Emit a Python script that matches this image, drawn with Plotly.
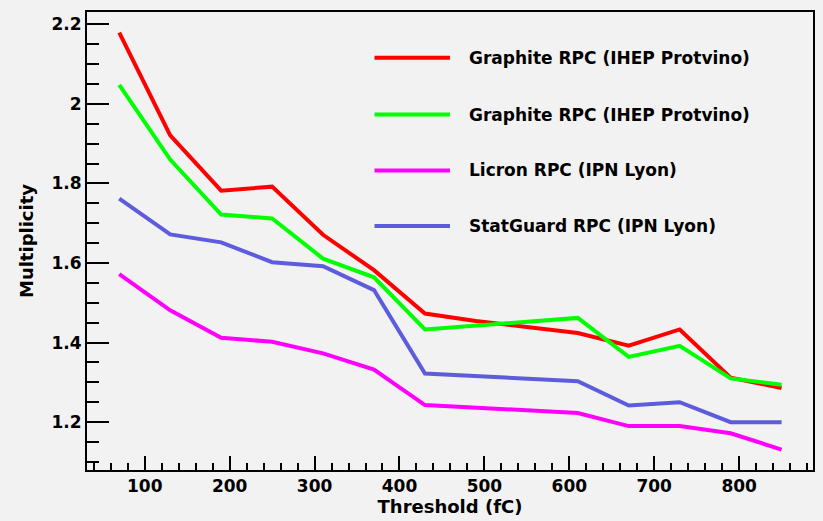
import plotly.graph_objects as go

threshold = [70, 130, 190, 250, 310, 370, 430, 490, 550, 610, 670, 730, 790, 850]
graphite_red = [2.179, 1.921, 1.782, 1.792, 1.671, 1.582, 1.473, 1.454, 1.439, 1.424, 1.392, 1.433, 1.312, 1.286]
graphite_green = [2.048, 1.860, 1.722, 1.712, 1.611, 1.564, 1.433, 1.443, 1.452, 1.462, 1.364, 1.392, 1.310, 1.294]
licron = [1.572, 1.481, 1.412, 1.402, 1.373, 1.332, 1.243, 1.236, 1.229, 1.223, 1.190, 1.190, 1.172, 1.131]
statguard = [1.762, 1.672, 1.652, 1.602, 1.592, 1.532, 1.322, 1.315, 1.310, 1.303, 1.242, 1.250, 1.200, 1.200]

names = ["Graphite RPC (IHEP Protvino)", "Graphite RPC (IHEP Protvino)",
         "Licron RPC (IPN Lyon)", "StatGuard RPC (IPN Lyon)"]
colors = ["#ff0000", "#00ff00", "#ff00ff", "#5c5cdc"]
series = [graphite_red, graphite_green, licron, statguard]

FONT = "DejaVu Sans"
BG = "#f2f2f2"

fig = go.Figure()
for vals, name, col in zip(series, names, colors):
    fig.add_trace(go.Scatter(x=threshold, y=vals, mode="lines", name=name,
                             line=dict(color=col, width=4), showlegend=False))

# manual legend (long line samples like the original)
legend_y = [0.900, 0.776, 0.654, 0.533]
for name, col, ly in zip(names, colors, legend_y):
    fig.add_shape(type="line", xref="paper", yref="paper",
                  x0=0.396, x1=0.500, y0=ly, y1=ly,
                  line=dict(color=col, width=4))
    fig.add_annotation(xref="paper", yref="paper", x=0.524, y=ly,
                       text="<b>%s</b>" % name, showarrow=False,
                       xanchor="left", yanchor="middle",
                       font=dict(family=FONT, size=17, color="black"))

fig.update_layout(
    width=823, height=521,
    margin=dict(l=87, r=8, t=12, b=49),
    paper_bgcolor=BG, plot_bgcolor=BG,
    font=dict(family=FONT, color="black"),
)
fig.update_xaxes(
    range=[32, 887], tickmode="linear", tick0=0, dtick=100,
    ticks="inside", ticklen=14, tickwidth=1.5, tickcolor="black",
    minor=dict(ticks="inside", ticklen=7, tickwidth=1.5, tickcolor="black", dtick=20, tick0=0),
    showline=True, linecolor="black", linewidth=2, mirror=True,
    showgrid=False, zeroline=False,
    tickfont=dict(family=FONT, size=17, color="black", weight="bold"),
    title=dict(text="<b>Threshold (fC)</b>", font=dict(family=FONT, size=18), standoff=4),
)
fig.update_yaxes(
    range=[1.0797, 2.231], tickmode="linear", tick0=0, dtick=0.2,
    ticks="inside", ticklen=22, tickwidth=1.5, tickcolor="black",
    minor=dict(ticks="inside", ticklen=12, tickwidth=1.5, tickcolor="black", dtick=0.05, tick0=0),
    showline=True, linecolor="black", linewidth=2, mirror=True,
    showgrid=False, zeroline=False,
    tickfont=dict(family=FONT, size=17, color="black", weight="bold"),
    title=dict(text="<b>Multiplicity</b>", font=dict(family=FONT, size=18), standoff=13),
)

fig.write_html("out.html")
